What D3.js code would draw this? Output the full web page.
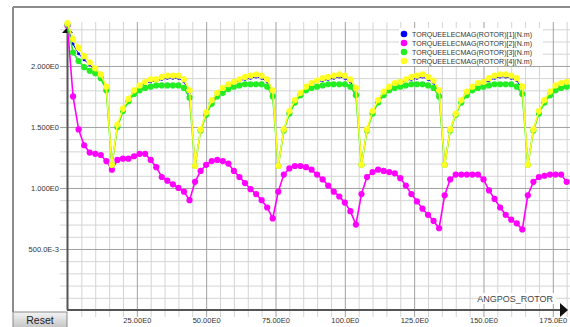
<!DOCTYPE html>
<html>
<head>
<meta charset="utf-8">
<script src="https://cdn.jsdelivr.net/npm/d3@7"></script>
<style>
  body { margin: 0; background: #fff; }
  text { font-family: "Liberation Sans", Arial, sans-serif; }
</style>
</head>
<body>
<svg id="chart" width="570" height="327"></svg>
<script>
// rotor angle samples (deg)
const angles = [
  0, 2, 4, 6, 8, 10, 12, 14, 16, 18, 20, 22, 24, 26, 28, 30, 32, 34, 36, 38,
  40, 42, 44, 46, 48, 50, 52, 54, 56, 58, 60, 62, 64, 66, 68, 70, 72, 74, 76, 78,
  80, 82, 84, 86, 88, 90, 92, 94, 96, 98, 100, 102, 104, 106, 108, 110, 112, 114, 116, 118,
  120, 122, 124, 126, 128, 130, 132, 134, 136, 138, 140, 142, 144, 146, 148, 150, 152, 154, 156, 158,
  160, 162, 164, 166, 168, 170, 172, 174, 176, 178, 180
];

const torque1 = [
  2.34, 2.18, 2.10, 2.05, 2.01, 1.96, 1.92, 1.82, 1.19,
  1.51, 1.64, 1.72, 1.79, 1.83, 1.86, 1.87, 1.88, 1.89, 1.90, 1.90, 1.90, 1.87, 1.78, 1.18,
  1.48, 1.61, 1.71, 1.77, 1.81, 1.84, 1.86, 1.88, 1.89, 1.90, 1.91, 1.90, 1.87, 1.78, 1.18,
  1.48, 1.62, 1.71, 1.77, 1.82, 1.85, 1.87, 1.88, 1.89, 1.90, 1.91, 1.90, 1.87, 1.80, 1.19,
  1.48, 1.62, 1.71, 1.78, 1.82, 1.85, 1.86, 1.88, 1.89, 1.90, 1.91, 1.89, 1.86, 1.78, 1.19,
  1.48, 1.60, 1.71, 1.78, 1.82, 1.85, 1.86, 1.88, 1.90, 1.91, 1.91, 1.90, 1.88, 1.81, 1.19,
  1.48, 1.62, 1.71, 1.78, 1.83, 1.85, 1.86
];

const torque2 = [
  2.33, 1.75, 1.48, 1.35, 1.29, 1.28, 1.27, 1.22, 1.15,
  1.23, 1.24, 1.24, 1.26, 1.28, 1.28, 1.23, 1.17, 1.09, 1.06, 1.03, 1.00, 0.97, 0.90,
  1.05, 1.14, 1.19, 1.22, 1.23, 1.22, 1.20, 1.14, 1.09, 1.04, 0.99, 0.95, 0.90, 0.84, 0.75,
  0.97, 1.11, 1.16, 1.18, 1.18, 1.17, 1.15, 1.11, 1.07, 1.02, 0.97, 0.93, 0.88, 0.81, 0.70,
  0.95, 1.09, 1.13, 1.15, 1.14, 1.13, 1.12, 1.08, 1.02, 0.95, 0.89, 0.83, 0.78, 0.73, 0.67,
  0.94, 1.07, 1.11, 1.11, 1.11, 1.11, 1.11, 1.07, 0.98, 0.91, 0.84, 0.78, 0.74, 0.71, 0.66,
  0.94, 1.05, 1.09, 1.10, 1.11, 1.11, 1.11, 1.05
];

const torque3 = [
  2.34, 2.11, 2.04, 1.99, 1.96, 1.94, 1.90, 1.80, 1.19,
  1.50, 1.63, 1.71, 1.77, 1.80, 1.82, 1.83, 1.84, 1.84, 1.84, 1.84, 1.84, 1.82, 1.74, 1.18,
  1.47, 1.60, 1.69, 1.75, 1.78, 1.81, 1.83, 1.84, 1.85, 1.85, 1.85, 1.85, 1.83, 1.75, 1.18,
  1.47, 1.61, 1.70, 1.76, 1.80, 1.82, 1.83, 1.84, 1.85, 1.85, 1.85, 1.85, 1.83, 1.76, 1.19,
  1.47, 1.61, 1.70, 1.76, 1.80, 1.82, 1.83, 1.84, 1.85, 1.85, 1.85, 1.84, 1.82, 1.75, 1.19,
  1.47, 1.60, 1.70, 1.76, 1.80, 1.82, 1.83, 1.84, 1.85, 1.85, 1.85, 1.85, 1.83, 1.77, 1.19,
  1.47, 1.61, 1.70, 1.76, 1.80, 1.82, 1.83
];

const torque4 = [
  2.35, 2.22, 2.15, 2.08, 2.03, 1.98, 1.93, 1.83, 1.19,
  1.52, 1.65, 1.73, 1.80, 1.84, 1.87, 1.89, 1.89, 1.91, 1.92, 1.92, 1.92, 1.89, 1.80, 1.18,
  1.48, 1.62, 1.72, 1.78, 1.82, 1.85, 1.87, 1.89, 1.91, 1.92, 1.93, 1.92, 1.89, 1.80, 1.18,
  1.48, 1.63, 1.72, 1.78, 1.83, 1.86, 1.88, 1.90, 1.91, 1.92, 1.93, 1.92, 1.89, 1.82, 1.19,
  1.48, 1.63, 1.72, 1.79, 1.83, 1.86, 1.87, 1.89, 1.91, 1.92, 1.93, 1.91, 1.88, 1.80, 1.19,
  1.48, 1.61, 1.72, 1.79, 1.83, 1.86, 1.87, 1.90, 1.92, 1.93, 1.93, 1.92, 1.90, 1.83, 1.19,
  1.48, 1.63, 1.72, 1.79, 1.84, 1.86, 1.87
];

const seriesNames = [
  'TORQUEELECMAG(ROTOR)[1](N.m)',
  'TORQUEELECMAG(ROTOR)[2](N.m)',
  'TORQUEELECMAG(ROTOR)[3](N.m)',
  'TORQUEELECMAG(ROTOR)[4](N.m)'
];
const seriesColors = ['#0000ff', '#ff00ff', '#22ee22', '#ffff22'];

const xTickValues = [25, 50, 75, 100, 125, 150, 175];
const xTickLabels = ['25.00E0', '50.00E0', '75.00E0', '100.0E0', '125.0E0', '150.0E0', '175.0E0'];
const yTickValues = [0.5, 1.0, 1.5, 2.0];
const yTickLabels = ['500.0E-3', '1.000E0', '1.500E0', '2.000E0'];
const xTitle = 'ANGPOS_ROTOR';

const svg = d3.select('#chart');

const x = d3.scaleLinear().domain([0, 181.2]).range([67.5, 570]);
const y = d3.scaleLinear().domain([0, 2.36]).range([310, 22]);

// outer frame
svg.append('line').attr('x1', 13).attr('x2', 570).attr('y1', 7).attr('y2', 7)
  .attr('stroke', '#8c8c8c').attr('stroke-width', 2);
svg.append('line').attr('x1', 13).attr('x2', 13).attr('y1', 7).attr('y2', 312)
  .attr('stroke', '#8c8c8c').attr('stroke-width', 2);

// grid, minor then major
const minorX = d3.range(5, 181, 5).filter(d => d % 25 !== 0);
const minorY = d3.range(1, 24).map(d => d / 10).filter(d => Math.round(d * 10) % 5 !== 0);

function gridStyle(g, color) {
  g.select('.domain').remove();
  g.selectAll('.tick line').attr('stroke', color).attr('stroke-width', 1);
  g.selectAll('.tick text').remove();
}

svg.append('g').attr('transform', 'translate(0,317)')
  .call(d3.axisBottom(x).tickValues(minorX).tickSize(-295).tickSizeOuter(0))
  .call(g => gridStyle(g, '#d4d4d4'));
svg.append('g').attr('transform', 'translate(60,0)')
  .call(d3.axisLeft(y).tickValues(minorY).tickSize(-510).tickSizeOuter(0))
  .call(g => gridStyle(g, '#d4d4d4'));
svg.append('g').attr('transform', 'translate(0,317)')
  .call(d3.axisBottom(x).tickValues(xTickValues).tickSize(-295).tickSizeOuter(0))
  .call(g => gridStyle(g, '#a0a0a0'));
svg.append('g').attr('transform', 'translate(60,0)')
  .call(d3.axisLeft(y).tickValues(yTickValues).tickSize(-510).tickSizeOuter(0))
  .call(g => gridStyle(g, '#a0a0a0'));

// tick labels
const xAxis = svg.append('g').attr('transform', 'translate(0,310)')
  .call(d3.axisBottom(x).tickValues(xTickValues).tickSize(0).tickPadding(8)
    .tickFormat((d, i) => xTickLabels[i]));
xAxis.select('.domain').remove();
xAxis.selectAll('text').attr('font-size', 7.5).attr('fill', '#333')
  .attr('font-family', '"Liberation Sans", Arial, sans-serif');

const yAxis = svg.append('g').attr('transform', 'translate(60,0)')
  .call(d3.axisLeft(y).tickValues(yTickValues).tickSize(0).tickPadding(1)
    .tickFormat((d, i) => yTickLabels[i]));
yAxis.select('.domain').remove();
yAxis.selectAll('text').attr('font-size', 7.5).attr('fill', '#333')
  .attr('font-family', '"Liberation Sans", Arial, sans-serif');

// axis lines with arrows
svg.append('line').attr('x1', 67).attr('x2', 562).attr('y1', 310).attr('y2', 310)
  .attr('stroke', '#555').attr('stroke-width', 2);
svg.append('path').attr('d', 'M560,303 L568,310 L560,317 Z').attr('fill', '#111');
svg.append('line').attr('x1', 67.5).attr('x2', 67.5).attr('y1', 310).attr('y2', 31)
  .attr('stroke', '#555').attr('stroke-width', 2);
svg.append('path').attr('d', 'M62,33 L67.5,27 L73,33 Z').attr('fill', '#111');

// x title
svg.append('rect').attr('x', 480).attr('y', 293).attr('width', 76).attr('height', 11).attr('fill', '#fff');
svg.append('text').attr('x', 553).attr('y', 302).attr('text-anchor', 'end')
  .attr('font-size', 9).attr('fill', '#444').text(xTitle);

// series
const allSeries = [torque1, torque2, torque3, torque4];
const line = d3.line().x(d => x(d[0])).y(d => y(d[1]));

allSeries.forEach((vals, i) => {
  const pts = angles.map((a, j) => [a, vals[j]]);
  const g = svg.append('g');
  g.append('path').datum(pts).attr('d', line)
    .attr('fill', 'none').attr('stroke', seriesColors[i])
    .attr('stroke-width', i === 0 ? 1 : 1.6);
  g.selectAll('circle').data(pts).enter().append('circle')
    .attr('cx', d => x(d[0])).attr('cy', d => y(d[1]))
    .attr('r', i === 0 ? 1.5 : 3.1)
    .attr('fill', seriesColors[i]);
});

// legend
svg.append('rect').attr('x', 399).attr('y', 28).attr('width', 144).attr('height', 38).attr('fill', '#fff');
const legend = svg.append('g');
seriesNames.forEach((name, i) => {
  const ly = 34 + i * 9;
  legend.append('circle').attr('cx', 404).attr('cy', ly).attr('r', 3.3).attr('fill', seriesColors[i]);
  legend.append('text').attr('x', 412).attr('y', ly + 2.6)
    .attr('font-size', 7.5).attr('fill', '#333')
    .attr('textLength', 120).attr('lengthAdjust', 'spacingAndGlyphs')
    .text(name);
});

// reset button
const defs = svg.append('defs');
const grad = defs.append('linearGradient').attr('id', 'btn').attr('x1', 0).attr('x2', 0).attr('y1', 0).attr('y2', 1);
grad.append('stop').attr('offset', '0%').attr('stop-color', '#f4f4f4');
grad.append('stop').attr('offset', '100%').attr('stop-color', '#c4c4c4');
svg.append('rect').attr('x', 13).attr('y', 312).attr('width', 54).attr('height', 16)
  .attr('fill', 'url(#btn)').attr('stroke', '#8a8a8a').attr('stroke-width', 1);
svg.append('text').attr('x', 40).attr('y', 324).attr('text-anchor', 'middle')
  .attr('font-size', 10.5).attr('fill', '#222').text('Reset');
</script>
</body>
</html>
